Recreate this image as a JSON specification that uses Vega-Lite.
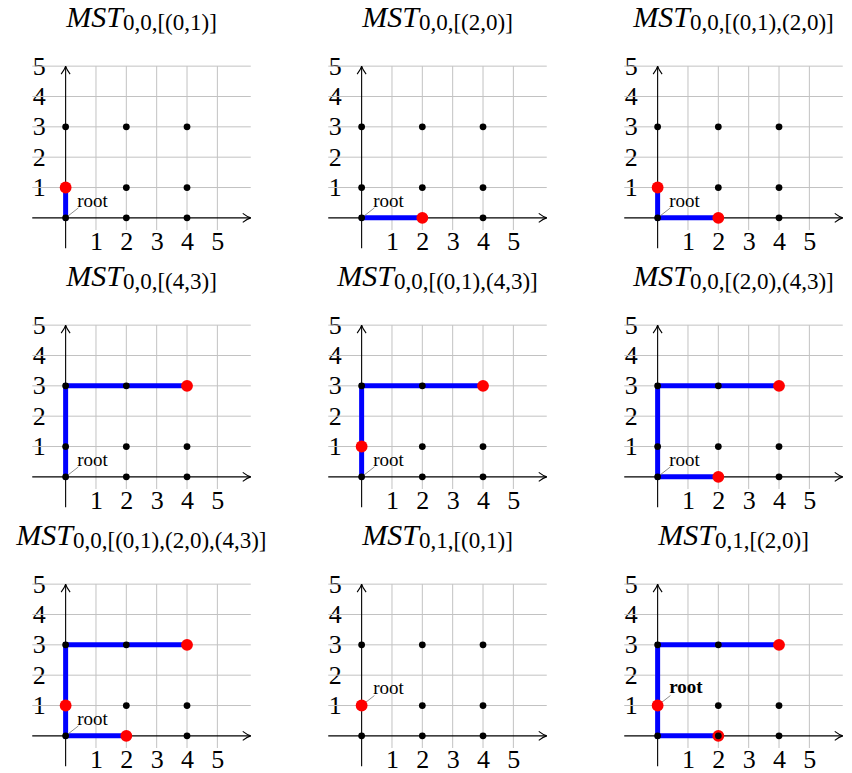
{
"$schema": "https://vega.github.io/schema/vega-lite/v6.json",
"background": "white",
"padding": {"left": 11, "top": 0, "right": 5, "bottom": 5},
"config": {
  "view": {"stroke": null},
  "axis": {"grid": false, "domain": false, "ticks": false, "labelFont": "Liberation Serif", "labelFontSize": 26, "labelColor": "#000000", "labelFlush": false, "labelOverlap": false},
  "axisX": {"labelPadding": 11, "labelBaseline": "middle"},
  "axisY": {"labelPadding": -27.7, "labelAlign": "center", "labelBaseline": "middle"}
},
"datasets": {
  "grid": [{"v": 1}, {"v": 2}, {"v": 3}, {"v": 4}, {"v": 5}],
  "titles": [
    {"panel": 1, "name": "MST", "sub": "0,0,[(0,1)]"},
    {"panel": 2, "name": "MST", "sub": "0,0,[(2,0)]"},
    {"panel": 3, "name": "MST", "sub": "0,0,[(0,1),(2,0)]"},
    {"panel": 4, "name": "MST", "sub": "0,0,[(4,3)]"},
    {"panel": 5, "name": "MST", "sub": "0,0,[(0,1),(4,3)]"},
    {"panel": 6, "name": "MST", "sub": "0,0,[(2,0),(4,3)]"},
    {"panel": 7, "name": "MST", "sub": "0,0,[(0,1),(2,0),(4,3)]"},
    {"panel": 8, "name": "MST", "sub": "0,1,[(0,1)]"},
    {"panel": 9, "name": "MST", "sub": "0,1,[(2,0)]"}
  ],
  "roots": [
    {"panel": 1, "x": 0, "y": 0}, {"panel": 2, "x": 0, "y": 0}, {"panel": 3, "x": 0, "y": 0},
    {"panel": 4, "x": 0, "y": 0}, {"panel": 5, "x": 0, "y": 0}, {"panel": 6, "x": 0, "y": 0},
    {"panel": 7, "x": 0, "y": 0}, {"panel": 8, "x": 0, "y": 1}, {"panel": 9, "x": 0, "y": 1}
  ],
  "edges": [
    {"panel": 1, "x": 0, "y": 0, "x2": 0, "y2": 1},
    {"panel": 2, "x": 0, "y": 0, "x2": 2, "y2": 0},
    {"panel": 3, "x": 0, "y": 0, "x2": 0, "y2": 1},
    {"panel": 3, "x": 0, "y": 0, "x2": 2, "y2": 0},
    {"panel": 4, "x": 0, "y": 0, "x2": 0, "y2": 3},
    {"panel": 4, "x": 0, "y": 3, "x2": 4, "y2": 3},
    {"panel": 5, "x": 0, "y": 0, "x2": 0, "y2": 3},
    {"panel": 5, "x": 0, "y": 3, "x2": 4, "y2": 3},
    {"panel": 6, "x": 0, "y": 0, "x2": 2, "y2": 0},
    {"panel": 6, "x": 0, "y": 0, "x2": 0, "y2": 3},
    {"panel": 6, "x": 0, "y": 3, "x2": 4, "y2": 3},
    {"panel": 7, "x": 0, "y": 0, "x2": 2, "y2": 0},
    {"panel": 7, "x": 0, "y": 0, "x2": 0, "y2": 3},
    {"panel": 7, "x": 0, "y": 3, "x2": 4, "y2": 3},
    {"panel": 9, "x": 0, "y": 0, "x2": 0, "y2": 3},
    {"panel": 9, "x": 0, "y": 3, "x2": 4, "y2": 3},
    {"panel": 9, "x": 0, "y": 0, "x2": 2, "y2": 0}
  ],
  "nodes": [
    {"panel": 1, "x": 0, "y": 0, "kind": "node"}, {"panel": 1, "x": 0, "y": 1, "kind": "node"}, {"panel": 1, "x": 0, "y": 3, "kind": "node"},
    {"panel": 1, "x": 2, "y": 0, "kind": "node"}, {"panel": 1, "x": 2, "y": 1, "kind": "node"}, {"panel": 1, "x": 2, "y": 3, "kind": "node"},
    {"panel": 1, "x": 4, "y": 0, "kind": "node"}, {"panel": 1, "x": 4, "y": 1, "kind": "node"}, {"panel": 1, "x": 4, "y": 3, "kind": "node"},
    {"panel": 1, "x": 0, "y": 1, "kind": "terminal"},
    {"panel": 2, "x": 0, "y": 0, "kind": "node"}, {"panel": 2, "x": 0, "y": 1, "kind": "node"}, {"panel": 2, "x": 0, "y": 3, "kind": "node"},
    {"panel": 2, "x": 2, "y": 0, "kind": "node"}, {"panel": 2, "x": 2, "y": 1, "kind": "node"}, {"panel": 2, "x": 2, "y": 3, "kind": "node"},
    {"panel": 2, "x": 4, "y": 0, "kind": "node"}, {"panel": 2, "x": 4, "y": 1, "kind": "node"}, {"panel": 2, "x": 4, "y": 3, "kind": "node"},
    {"panel": 2, "x": 2, "y": 0, "kind": "terminal"},
    {"panel": 3, "x": 0, "y": 0, "kind": "node"}, {"panel": 3, "x": 0, "y": 1, "kind": "node"}, {"panel": 3, "x": 0, "y": 3, "kind": "node"},
    {"panel": 3, "x": 2, "y": 0, "kind": "node"}, {"panel": 3, "x": 2, "y": 1, "kind": "node"}, {"panel": 3, "x": 2, "y": 3, "kind": "node"},
    {"panel": 3, "x": 4, "y": 0, "kind": "node"}, {"panel": 3, "x": 4, "y": 1, "kind": "node"}, {"panel": 3, "x": 4, "y": 3, "kind": "node"},
    {"panel": 3, "x": 0, "y": 1, "kind": "terminal"}, {"panel": 3, "x": 2, "y": 0, "kind": "terminal"},
    {"panel": 4, "x": 0, "y": 0, "kind": "node"}, {"panel": 4, "x": 0, "y": 1, "kind": "node"}, {"panel": 4, "x": 0, "y": 3, "kind": "node"},
    {"panel": 4, "x": 2, "y": 0, "kind": "node"}, {"panel": 4, "x": 2, "y": 1, "kind": "node"}, {"panel": 4, "x": 2, "y": 3, "kind": "node"},
    {"panel": 4, "x": 4, "y": 0, "kind": "node"}, {"panel": 4, "x": 4, "y": 1, "kind": "node"}, {"panel": 4, "x": 4, "y": 3, "kind": "node"},
    {"panel": 4, "x": 4, "y": 3, "kind": "terminal"},
    {"panel": 5, "x": 0, "y": 0, "kind": "node"}, {"panel": 5, "x": 0, "y": 1, "kind": "node"}, {"panel": 5, "x": 0, "y": 3, "kind": "node"},
    {"panel": 5, "x": 2, "y": 0, "kind": "node"}, {"panel": 5, "x": 2, "y": 1, "kind": "node"}, {"panel": 5, "x": 2, "y": 3, "kind": "node"},
    {"panel": 5, "x": 4, "y": 0, "kind": "node"}, {"panel": 5, "x": 4, "y": 1, "kind": "node"}, {"panel": 5, "x": 4, "y": 3, "kind": "node"},
    {"panel": 5, "x": 0, "y": 1, "kind": "terminal"}, {"panel": 5, "x": 4, "y": 3, "kind": "terminal"},
    {"panel": 6, "x": 0, "y": 0, "kind": "node"}, {"panel": 6, "x": 0, "y": 1, "kind": "node"}, {"panel": 6, "x": 0, "y": 3, "kind": "node"},
    {"panel": 6, "x": 2, "y": 0, "kind": "node"}, {"panel": 6, "x": 2, "y": 1, "kind": "node"}, {"panel": 6, "x": 2, "y": 3, "kind": "node"},
    {"panel": 6, "x": 4, "y": 0, "kind": "node"}, {"panel": 6, "x": 4, "y": 1, "kind": "node"}, {"panel": 6, "x": 4, "y": 3, "kind": "node"},
    {"panel": 6, "x": 2, "y": 0, "kind": "terminal"}, {"panel": 6, "x": 4, "y": 3, "kind": "terminal"},
    {"panel": 7, "x": 0, "y": 0, "kind": "node"}, {"panel": 7, "x": 0, "y": 1, "kind": "node"}, {"panel": 7, "x": 0, "y": 3, "kind": "node"},
    {"panel": 7, "x": 2, "y": 0, "kind": "node"}, {"panel": 7, "x": 2, "y": 1, "kind": "node"}, {"panel": 7, "x": 2, "y": 3, "kind": "node"},
    {"panel": 7, "x": 4, "y": 0, "kind": "node"}, {"panel": 7, "x": 4, "y": 1, "kind": "node"}, {"panel": 7, "x": 4, "y": 3, "kind": "node"},
    {"panel": 7, "x": 0, "y": 1, "kind": "terminal"}, {"panel": 7, "x": 2, "y": 0, "kind": "terminal"}, {"panel": 7, "x": 4, "y": 3, "kind": "terminal"},
    {"panel": 8, "x": 0, "y": 0, "kind": "node"}, {"panel": 8, "x": 0, "y": 1, "kind": "node"}, {"panel": 8, "x": 0, "y": 3, "kind": "node"},
    {"panel": 8, "x": 2, "y": 0, "kind": "node"}, {"panel": 8, "x": 2, "y": 1, "kind": "node"}, {"panel": 8, "x": 2, "y": 3, "kind": "node"},
    {"panel": 8, "x": 4, "y": 0, "kind": "node"}, {"panel": 8, "x": 4, "y": 1, "kind": "node"}, {"panel": 8, "x": 4, "y": 3, "kind": "node"},
    {"panel": 8, "x": 0, "y": 1, "kind": "terminal"},
    {"panel": 9, "x": 0, "y": 0, "kind": "node"}, {"panel": 9, "x": 0, "y": 1, "kind": "node"}, {"panel": 9, "x": 0, "y": 3, "kind": "node"},
    {"panel": 9, "x": 2, "y": 0, "kind": "node"}, {"panel": 9, "x": 2, "y": 1, "kind": "node"}, {"panel": 9, "x": 2, "y": 3, "kind": "node"},
    {"panel": 9, "x": 4, "y": 0, "kind": "node"}, {"panel": 9, "x": 4, "y": 1, "kind": "node"}, {"panel": 9, "x": 4, "y": 3, "kind": "node"},
    {"panel": 9, "x": 0, "y": 1, "kind": "terminal"}, {"panel": 9, "x": 4, "y": 3, "kind": "terminal"}, {"panel": 9, "x": 2, "y": 0, "kind": "terminal"},
    {"panel": 9, "x": 2, "y": 0, "kind": "node"}
  ]
},
"columns": 3,
"spacing": {"row": 29, "column": 35},
"bounds": "flush",
"concat": [
{"width": 261, "height": 230, "layer": [
 {"data": {"name": "grid"}, "mark": {"type": "rule", "color": "#c2c2c2", "strokeWidth": 1}, "encoding": {"x": {"field": "v", "type": "quantitative", "title": null, "scale": {"domain": [-1.8, 6.8], "nice": false, "zero": false}, "axis": {"values": [1, 2, 3, 4, 5], "title": null}}, "y": {"datum": -0.4, "type": "quantitative", "scale": {"domain": [-0.4, 7.18], "nice": false, "zero": false}, "axis": {"values": [1, 2, 3, 4, 5], "title": null}}, "y2": {"datum": 5}}},
 {"data": {"name": "grid"}, "mark": {"type": "rule", "color": "#c2c2c2", "strokeWidth": 1}, "encoding": {"y": {"field": "v", "type": "quantitative", "title": null}, "x": {"datum": -1.1, "type": "quantitative"}, "x2": {"datum": 6.1}}},
 {"data": {"values": [{}]}, "mark": {"type": "rule", "color": "#000000", "strokeWidth": 1.1}, "encoding": {"x": {"datum": -1.1, "type": "quantitative"}, "x2": {"datum": 6.1}, "y": {"datum": 0, "type": "quantitative"}}},
 {"data": {"values": [{}]}, "mark": {"type": "rule", "color": "#000000", "strokeWidth": 1.1}, "encoding": {"x": {"datum": 0, "type": "quantitative"}, "y": {"datum": -1, "type": "quantitative"}, "y2": {"datum": 5}}},
 {"data": {"values": [{}]}, "mark": {"type": "point", "shape": "M -1 -0.56 Q -0.4 -0.1 0 0 Q -0.4 0.1 -1 0.56", "filled": false, "color": "#000000", "strokeWidth": 1.1, "size": 256, "opacity": 1}, "encoding": {"x": {"datum": 6.1, "type": "quantitative"}, "y": {"datum": 0, "type": "quantitative"}}},
 {"data": {"values": [{}]}, "mark": {"type": "point", "shape": "M -0.56 1 Q -0.1 0.4 0 0 Q 0.1 0.4 0.56 1", "filled": false, "color": "#000000", "strokeWidth": 1.1, "size": 256, "opacity": 1}, "encoding": {"x": {"datum": 0, "type": "quantitative"}, "y": {"datum": 5, "type": "quantitative"}}},
 {"data": {"name": "edges"}, "transform": [{"filter": "datum.panel == 1"}], "mark": {"type": "rule", "color": "#0000ff", "strokeWidth": 5, "strokeCap": "square"}, "encoding": {"x": {"field": "x", "type": "quantitative", "title": null}, "y": {"field": "y", "type": "quantitative", "title": null}, "x2": {"field": "x2"}, "y2": {"field": "y2"}}},
 {"data": {"name": "roots"}, "transform": [{"filter": "datum.panel == 1"}], "mark": {"type": "point", "shape": "M 0 0 L 1 -0.78", "filled": false, "color": "#808080", "strokeWidth": 0.9, "size": 655, "opacity": 1}, "encoding": {"x": {"field": "x", "type": "quantitative", "title": null}, "y": {"field": "y", "type": "quantitative", "title": null}}},
 {"data": {"name": "nodes"}, "transform": [{"filter": "datum.panel == 1"}], "mark": {"type": "point", "shape": "circle", "filled": true, "opacity": 1, "strokeWidth": 0}, "encoding": {"x": {"field": "x", "type": "quantitative", "title": null}, "y": {"field": "y", "type": "quantitative", "title": null}, "color": {"field": "kind", "type": "nominal", "scale": {"domain": ["node", "terminal"], "range": ["#000000", "#ff0000"]}, "legend": null}, "size": {"field": "kind", "type": "ordinal", "scale": {"domain": ["node", "terminal"], "range": [46, 140]}, "legend": null}}},
 {"data": {"name": "roots"}, "transform": [{"filter": "datum.panel == 1"}], "mark": {"type": "text", "text": "root", "align": "left", "baseline": "alphabetic", "dx": 11.5, "dy": -11.3, "font": "Liberation Serif", "fontSize": 19, "color": "#000000"}, "encoding": {"x": {"field": "x", "type": "quantitative", "title": null}, "y": {"field": "y", "type": "quantitative", "title": null}}},
 {"data": {"name": "titles"}, "transform": [{"filter": "datum.panel == 1"}], "mark": {"type": "text", "align": "right", "baseline": "alphabetic", "dx": -18.6, "font": "Liberation Serif", "fontStyle": "italic", "fontSize": 30, "color": "#000000"}, "encoding": {"x": {"datum": 2.5, "type": "quantitative"}, "y": {"datum": 6.276, "type": "quantitative"}, "text": {"field": "name"}}},
 {"data": {"name": "titles"}, "transform": [{"filter": "datum.panel == 1"}], "mark": {"type": "text", "align": "left", "baseline": "alphabetic", "dx": -18.6, "dy": 3, "font": "Liberation Serif", "fontSize": 23, "color": "#000000"}, "encoding": {"x": {"datum": 2.5, "type": "quantitative"}, "y": {"datum": 6.276, "type": "quantitative"}, "text": {"field": "sub"}}}
]},
{"width": 261, "height": 230, "layer": [
 {"data": {"name": "grid"}, "mark": {"type": "rule", "color": "#c2c2c2", "strokeWidth": 1}, "encoding": {"x": {"field": "v", "type": "quantitative", "title": null, "scale": {"domain": [-1.8, 6.8], "nice": false, "zero": false}, "axis": {"values": [1, 2, 3, 4, 5], "title": null}}, "y": {"datum": -0.4, "type": "quantitative", "scale": {"domain": [-0.4, 7.18], "nice": false, "zero": false}, "axis": {"values": [1, 2, 3, 4, 5], "title": null}}, "y2": {"datum": 5}}},
 {"data": {"name": "grid"}, "mark": {"type": "rule", "color": "#c2c2c2", "strokeWidth": 1}, "encoding": {"y": {"field": "v", "type": "quantitative", "title": null}, "x": {"datum": -1.1, "type": "quantitative"}, "x2": {"datum": 6.1}}},
 {"data": {"values": [{}]}, "mark": {"type": "rule", "color": "#000000", "strokeWidth": 1.1}, "encoding": {"x": {"datum": -1.1, "type": "quantitative"}, "x2": {"datum": 6.1}, "y": {"datum": 0, "type": "quantitative"}}},
 {"data": {"values": [{}]}, "mark": {"type": "rule", "color": "#000000", "strokeWidth": 1.1}, "encoding": {"x": {"datum": 0, "type": "quantitative"}, "y": {"datum": -1, "type": "quantitative"}, "y2": {"datum": 5}}},
 {"data": {"values": [{}]}, "mark": {"type": "point", "shape": "M -1 -0.56 Q -0.4 -0.1 0 0 Q -0.4 0.1 -1 0.56", "filled": false, "color": "#000000", "strokeWidth": 1.1, "size": 256, "opacity": 1}, "encoding": {"x": {"datum": 6.1, "type": "quantitative"}, "y": {"datum": 0, "type": "quantitative"}}},
 {"data": {"values": [{}]}, "mark": {"type": "point", "shape": "M -0.56 1 Q -0.1 0.4 0 0 Q 0.1 0.4 0.56 1", "filled": false, "color": "#000000", "strokeWidth": 1.1, "size": 256, "opacity": 1}, "encoding": {"x": {"datum": 0, "type": "quantitative"}, "y": {"datum": 5, "type": "quantitative"}}},
 {"data": {"name": "edges"}, "transform": [{"filter": "datum.panel == 2"}], "mark": {"type": "rule", "color": "#0000ff", "strokeWidth": 5, "strokeCap": "square"}, "encoding": {"x": {"field": "x", "type": "quantitative", "title": null}, "y": {"field": "y", "type": "quantitative", "title": null}, "x2": {"field": "x2"}, "y2": {"field": "y2"}}},
 {"data": {"name": "roots"}, "transform": [{"filter": "datum.panel == 2"}], "mark": {"type": "point", "shape": "M 0 0 L 1 -0.78", "filled": false, "color": "#808080", "strokeWidth": 0.9, "size": 655, "opacity": 1}, "encoding": {"x": {"field": "x", "type": "quantitative", "title": null}, "y": {"field": "y", "type": "quantitative", "title": null}}},
 {"data": {"name": "nodes"}, "transform": [{"filter": "datum.panel == 2"}], "mark": {"type": "point", "shape": "circle", "filled": true, "opacity": 1, "strokeWidth": 0}, "encoding": {"x": {"field": "x", "type": "quantitative", "title": null}, "y": {"field": "y", "type": "quantitative", "title": null}, "color": {"field": "kind", "type": "nominal", "scale": {"domain": ["node", "terminal"], "range": ["#000000", "#ff0000"]}, "legend": null}, "size": {"field": "kind", "type": "ordinal", "scale": {"domain": ["node", "terminal"], "range": [46, 140]}, "legend": null}}},
 {"data": {"name": "roots"}, "transform": [{"filter": "datum.panel == 2"}], "mark": {"type": "text", "text": "root", "align": "left", "baseline": "alphabetic", "dx": 11.5, "dy": -11.3, "font": "Liberation Serif", "fontSize": 19, "color": "#000000"}, "encoding": {"x": {"field": "x", "type": "quantitative", "title": null}, "y": {"field": "y", "type": "quantitative", "title": null}}},
 {"data": {"name": "titles"}, "transform": [{"filter": "datum.panel == 2"}], "mark": {"type": "text", "align": "right", "baseline": "alphabetic", "dx": -18.6, "font": "Liberation Serif", "fontStyle": "italic", "fontSize": 30, "color": "#000000"}, "encoding": {"x": {"datum": 2.5, "type": "quantitative"}, "y": {"datum": 6.276, "type": "quantitative"}, "text": {"field": "name"}}},
 {"data": {"name": "titles"}, "transform": [{"filter": "datum.panel == 2"}], "mark": {"type": "text", "align": "left", "baseline": "alphabetic", "dx": -18.6, "dy": 3, "font": "Liberation Serif", "fontSize": 23, "color": "#000000"}, "encoding": {"x": {"datum": 2.5, "type": "quantitative"}, "y": {"datum": 6.276, "type": "quantitative"}, "text": {"field": "sub"}}}
]},
{"width": 261, "height": 230, "layer": [
 {"data": {"name": "grid"}, "mark": {"type": "rule", "color": "#c2c2c2", "strokeWidth": 1}, "encoding": {"x": {"field": "v", "type": "quantitative", "title": null, "scale": {"domain": [-1.8, 6.8], "nice": false, "zero": false}, "axis": {"values": [1, 2, 3, 4, 5], "title": null}}, "y": {"datum": -0.4, "type": "quantitative", "scale": {"domain": [-0.4, 7.18], "nice": false, "zero": false}, "axis": {"values": [1, 2, 3, 4, 5], "title": null}}, "y2": {"datum": 5}}},
 {"data": {"name": "grid"}, "mark": {"type": "rule", "color": "#c2c2c2", "strokeWidth": 1}, "encoding": {"y": {"field": "v", "type": "quantitative", "title": null}, "x": {"datum": -1.1, "type": "quantitative"}, "x2": {"datum": 6.1}}},
 {"data": {"values": [{}]}, "mark": {"type": "rule", "color": "#000000", "strokeWidth": 1.1}, "encoding": {"x": {"datum": -1.1, "type": "quantitative"}, "x2": {"datum": 6.1}, "y": {"datum": 0, "type": "quantitative"}}},
 {"data": {"values": [{}]}, "mark": {"type": "rule", "color": "#000000", "strokeWidth": 1.1}, "encoding": {"x": {"datum": 0, "type": "quantitative"}, "y": {"datum": -1, "type": "quantitative"}, "y2": {"datum": 5}}},
 {"data": {"values": [{}]}, "mark": {"type": "point", "shape": "M -1 -0.56 Q -0.4 -0.1 0 0 Q -0.4 0.1 -1 0.56", "filled": false, "color": "#000000", "strokeWidth": 1.1, "size": 256, "opacity": 1}, "encoding": {"x": {"datum": 6.1, "type": "quantitative"}, "y": {"datum": 0, "type": "quantitative"}}},
 {"data": {"values": [{}]}, "mark": {"type": "point", "shape": "M -0.56 1 Q -0.1 0.4 0 0 Q 0.1 0.4 0.56 1", "filled": false, "color": "#000000", "strokeWidth": 1.1, "size": 256, "opacity": 1}, "encoding": {"x": {"datum": 0, "type": "quantitative"}, "y": {"datum": 5, "type": "quantitative"}}},
 {"data": {"name": "edges"}, "transform": [{"filter": "datum.panel == 3"}], "mark": {"type": "rule", "color": "#0000ff", "strokeWidth": 5, "strokeCap": "square"}, "encoding": {"x": {"field": "x", "type": "quantitative", "title": null}, "y": {"field": "y", "type": "quantitative", "title": null}, "x2": {"field": "x2"}, "y2": {"field": "y2"}}},
 {"data": {"name": "roots"}, "transform": [{"filter": "datum.panel == 3"}], "mark": {"type": "point", "shape": "M 0 0 L 1 -0.78", "filled": false, "color": "#808080", "strokeWidth": 0.9, "size": 655, "opacity": 1}, "encoding": {"x": {"field": "x", "type": "quantitative", "title": null}, "y": {"field": "y", "type": "quantitative", "title": null}}},
 {"data": {"name": "nodes"}, "transform": [{"filter": "datum.panel == 3"}], "mark": {"type": "point", "shape": "circle", "filled": true, "opacity": 1, "strokeWidth": 0}, "encoding": {"x": {"field": "x", "type": "quantitative", "title": null}, "y": {"field": "y", "type": "quantitative", "title": null}, "color": {"field": "kind", "type": "nominal", "scale": {"domain": ["node", "terminal"], "range": ["#000000", "#ff0000"]}, "legend": null}, "size": {"field": "kind", "type": "ordinal", "scale": {"domain": ["node", "terminal"], "range": [46, 140]}, "legend": null}}},
 {"data": {"name": "roots"}, "transform": [{"filter": "datum.panel == 3"}], "mark": {"type": "text", "text": "root", "align": "left", "baseline": "alphabetic", "dx": 11.5, "dy": -11.3, "font": "Liberation Serif", "fontSize": 19, "color": "#000000"}, "encoding": {"x": {"field": "x", "type": "quantitative", "title": null}, "y": {"field": "y", "type": "quantitative", "title": null}}},
 {"data": {"name": "titles"}, "transform": [{"filter": "datum.panel == 3"}], "mark": {"type": "text", "align": "right", "baseline": "alphabetic", "dx": -43.5, "font": "Liberation Serif", "fontStyle": "italic", "fontSize": 30, "color": "#000000"}, "encoding": {"x": {"datum": 2.5, "type": "quantitative"}, "y": {"datum": 6.276, "type": "quantitative"}, "text": {"field": "name"}}},
 {"data": {"name": "titles"}, "transform": [{"filter": "datum.panel == 3"}], "mark": {"type": "text", "align": "left", "baseline": "alphabetic", "dx": -43.5, "dy": 3, "font": "Liberation Serif", "fontSize": 23, "color": "#000000"}, "encoding": {"x": {"datum": 2.5, "type": "quantitative"}, "y": {"datum": 6.276, "type": "quantitative"}, "text": {"field": "sub"}}}
]},
{"width": 261, "height": 230, "layer": [
 {"data": {"name": "grid"}, "mark": {"type": "rule", "color": "#c2c2c2", "strokeWidth": 1}, "encoding": {"x": {"field": "v", "type": "quantitative", "title": null, "scale": {"domain": [-1.8, 6.8], "nice": false, "zero": false}, "axis": {"values": [1, 2, 3, 4, 5], "title": null}}, "y": {"datum": -0.4, "type": "quantitative", "scale": {"domain": [-0.4, 7.18], "nice": false, "zero": false}, "axis": {"values": [1, 2, 3, 4, 5], "title": null}}, "y2": {"datum": 5}}},
 {"data": {"name": "grid"}, "mark": {"type": "rule", "color": "#c2c2c2", "strokeWidth": 1}, "encoding": {"y": {"field": "v", "type": "quantitative", "title": null}, "x": {"datum": -1.1, "type": "quantitative"}, "x2": {"datum": 6.1}}},
 {"data": {"values": [{}]}, "mark": {"type": "rule", "color": "#000000", "strokeWidth": 1.1}, "encoding": {"x": {"datum": -1.1, "type": "quantitative"}, "x2": {"datum": 6.1}, "y": {"datum": 0, "type": "quantitative"}}},
 {"data": {"values": [{}]}, "mark": {"type": "rule", "color": "#000000", "strokeWidth": 1.1}, "encoding": {"x": {"datum": 0, "type": "quantitative"}, "y": {"datum": -1, "type": "quantitative"}, "y2": {"datum": 5}}},
 {"data": {"values": [{}]}, "mark": {"type": "point", "shape": "M -1 -0.56 Q -0.4 -0.1 0 0 Q -0.4 0.1 -1 0.56", "filled": false, "color": "#000000", "strokeWidth": 1.1, "size": 256, "opacity": 1}, "encoding": {"x": {"datum": 6.1, "type": "quantitative"}, "y": {"datum": 0, "type": "quantitative"}}},
 {"data": {"values": [{}]}, "mark": {"type": "point", "shape": "M -0.56 1 Q -0.1 0.4 0 0 Q 0.1 0.4 0.56 1", "filled": false, "color": "#000000", "strokeWidth": 1.1, "size": 256, "opacity": 1}, "encoding": {"x": {"datum": 0, "type": "quantitative"}, "y": {"datum": 5, "type": "quantitative"}}},
 {"data": {"name": "edges"}, "transform": [{"filter": "datum.panel == 4"}], "mark": {"type": "rule", "color": "#0000ff", "strokeWidth": 5, "strokeCap": "square"}, "encoding": {"x": {"field": "x", "type": "quantitative", "title": null}, "y": {"field": "y", "type": "quantitative", "title": null}, "x2": {"field": "x2"}, "y2": {"field": "y2"}}},
 {"data": {"name": "roots"}, "transform": [{"filter": "datum.panel == 4"}], "mark": {"type": "point", "shape": "M 0 0 L 1 -0.78", "filled": false, "color": "#808080", "strokeWidth": 0.9, "size": 655, "opacity": 1}, "encoding": {"x": {"field": "x", "type": "quantitative", "title": null}, "y": {"field": "y", "type": "quantitative", "title": null}}},
 {"data": {"name": "nodes"}, "transform": [{"filter": "datum.panel == 4"}], "mark": {"type": "point", "shape": "circle", "filled": true, "opacity": 1, "strokeWidth": 0}, "encoding": {"x": {"field": "x", "type": "quantitative", "title": null}, "y": {"field": "y", "type": "quantitative", "title": null}, "color": {"field": "kind", "type": "nominal", "scale": {"domain": ["node", "terminal"], "range": ["#000000", "#ff0000"]}, "legend": null}, "size": {"field": "kind", "type": "ordinal", "scale": {"domain": ["node", "terminal"], "range": [46, 140]}, "legend": null}}},
 {"data": {"name": "roots"}, "transform": [{"filter": "datum.panel == 4"}], "mark": {"type": "text", "text": "root", "align": "left", "baseline": "alphabetic", "dx": 11.5, "dy": -11.3, "font": "Liberation Serif", "fontSize": 19, "color": "#000000"}, "encoding": {"x": {"field": "x", "type": "quantitative", "title": null}, "y": {"field": "y", "type": "quantitative", "title": null}}},
 {"data": {"name": "titles"}, "transform": [{"filter": "datum.panel == 4"}], "mark": {"type": "text", "align": "right", "baseline": "alphabetic", "dx": -18.6, "font": "Liberation Serif", "fontStyle": "italic", "fontSize": 30, "color": "#000000"}, "encoding": {"x": {"datum": 2.5, "type": "quantitative"}, "y": {"datum": 6.276, "type": "quantitative"}, "text": {"field": "name"}}},
 {"data": {"name": "titles"}, "transform": [{"filter": "datum.panel == 4"}], "mark": {"type": "text", "align": "left", "baseline": "alphabetic", "dx": -18.6, "dy": 3, "font": "Liberation Serif", "fontSize": 23, "color": "#000000"}, "encoding": {"x": {"datum": 2.5, "type": "quantitative"}, "y": {"datum": 6.276, "type": "quantitative"}, "text": {"field": "sub"}}}
]},
{"width": 261, "height": 230, "layer": [
 {"data": {"name": "grid"}, "mark": {"type": "rule", "color": "#c2c2c2", "strokeWidth": 1}, "encoding": {"x": {"field": "v", "type": "quantitative", "title": null, "scale": {"domain": [-1.8, 6.8], "nice": false, "zero": false}, "axis": {"values": [1, 2, 3, 4, 5], "title": null}}, "y": {"datum": -0.4, "type": "quantitative", "scale": {"domain": [-0.4, 7.18], "nice": false, "zero": false}, "axis": {"values": [1, 2, 3, 4, 5], "title": null}}, "y2": {"datum": 5}}},
 {"data": {"name": "grid"}, "mark": {"type": "rule", "color": "#c2c2c2", "strokeWidth": 1}, "encoding": {"y": {"field": "v", "type": "quantitative", "title": null}, "x": {"datum": -1.1, "type": "quantitative"}, "x2": {"datum": 6.1}}},
 {"data": {"values": [{}]}, "mark": {"type": "rule", "color": "#000000", "strokeWidth": 1.1}, "encoding": {"x": {"datum": -1.1, "type": "quantitative"}, "x2": {"datum": 6.1}, "y": {"datum": 0, "type": "quantitative"}}},
 {"data": {"values": [{}]}, "mark": {"type": "rule", "color": "#000000", "strokeWidth": 1.1}, "encoding": {"x": {"datum": 0, "type": "quantitative"}, "y": {"datum": -1, "type": "quantitative"}, "y2": {"datum": 5}}},
 {"data": {"values": [{}]}, "mark": {"type": "point", "shape": "M -1 -0.56 Q -0.4 -0.1 0 0 Q -0.4 0.1 -1 0.56", "filled": false, "color": "#000000", "strokeWidth": 1.1, "size": 256, "opacity": 1}, "encoding": {"x": {"datum": 6.1, "type": "quantitative"}, "y": {"datum": 0, "type": "quantitative"}}},
 {"data": {"values": [{}]}, "mark": {"type": "point", "shape": "M -0.56 1 Q -0.1 0.4 0 0 Q 0.1 0.4 0.56 1", "filled": false, "color": "#000000", "strokeWidth": 1.1, "size": 256, "opacity": 1}, "encoding": {"x": {"datum": 0, "type": "quantitative"}, "y": {"datum": 5, "type": "quantitative"}}},
 {"data": {"name": "edges"}, "transform": [{"filter": "datum.panel == 5"}], "mark": {"type": "rule", "color": "#0000ff", "strokeWidth": 5, "strokeCap": "square"}, "encoding": {"x": {"field": "x", "type": "quantitative", "title": null}, "y": {"field": "y", "type": "quantitative", "title": null}, "x2": {"field": "x2"}, "y2": {"field": "y2"}}},
 {"data": {"name": "roots"}, "transform": [{"filter": "datum.panel == 5"}], "mark": {"type": "point", "shape": "M 0 0 L 1 -0.78", "filled": false, "color": "#808080", "strokeWidth": 0.9, "size": 655, "opacity": 1}, "encoding": {"x": {"field": "x", "type": "quantitative", "title": null}, "y": {"field": "y", "type": "quantitative", "title": null}}},
 {"data": {"name": "nodes"}, "transform": [{"filter": "datum.panel == 5"}], "mark": {"type": "point", "shape": "circle", "filled": true, "opacity": 1, "strokeWidth": 0}, "encoding": {"x": {"field": "x", "type": "quantitative", "title": null}, "y": {"field": "y", "type": "quantitative", "title": null}, "color": {"field": "kind", "type": "nominal", "scale": {"domain": ["node", "terminal"], "range": ["#000000", "#ff0000"]}, "legend": null}, "size": {"field": "kind", "type": "ordinal", "scale": {"domain": ["node", "terminal"], "range": [46, 140]}, "legend": null}}},
 {"data": {"name": "roots"}, "transform": [{"filter": "datum.panel == 5"}], "mark": {"type": "text", "text": "root", "align": "left", "baseline": "alphabetic", "dx": 11.5, "dy": -11.3, "font": "Liberation Serif", "fontSize": 19, "color": "#000000"}, "encoding": {"x": {"field": "x", "type": "quantitative", "title": null}, "y": {"field": "y", "type": "quantitative", "title": null}}},
 {"data": {"name": "titles"}, "transform": [{"filter": "datum.panel == 5"}], "mark": {"type": "text", "align": "right", "baseline": "alphabetic", "dx": -43.5, "font": "Liberation Serif", "fontStyle": "italic", "fontSize": 30, "color": "#000000"}, "encoding": {"x": {"datum": 2.5, "type": "quantitative"}, "y": {"datum": 6.276, "type": "quantitative"}, "text": {"field": "name"}}},
 {"data": {"name": "titles"}, "transform": [{"filter": "datum.panel == 5"}], "mark": {"type": "text", "align": "left", "baseline": "alphabetic", "dx": -43.5, "dy": 3, "font": "Liberation Serif", "fontSize": 23, "color": "#000000"}, "encoding": {"x": {"datum": 2.5, "type": "quantitative"}, "y": {"datum": 6.276, "type": "quantitative"}, "text": {"field": "sub"}}}
]},
{"width": 261, "height": 230, "layer": [
 {"data": {"name": "grid"}, "mark": {"type": "rule", "color": "#c2c2c2", "strokeWidth": 1}, "encoding": {"x": {"field": "v", "type": "quantitative", "title": null, "scale": {"domain": [-1.8, 6.8], "nice": false, "zero": false}, "axis": {"values": [1, 2, 3, 4, 5], "title": null}}, "y": {"datum": -0.4, "type": "quantitative", "scale": {"domain": [-0.4, 7.18], "nice": false, "zero": false}, "axis": {"values": [1, 2, 3, 4, 5], "title": null}}, "y2": {"datum": 5}}},
 {"data": {"name": "grid"}, "mark": {"type": "rule", "color": "#c2c2c2", "strokeWidth": 1}, "encoding": {"y": {"field": "v", "type": "quantitative", "title": null}, "x": {"datum": -1.1, "type": "quantitative"}, "x2": {"datum": 6.1}}},
 {"data": {"values": [{}]}, "mark": {"type": "rule", "color": "#000000", "strokeWidth": 1.1}, "encoding": {"x": {"datum": -1.1, "type": "quantitative"}, "x2": {"datum": 6.1}, "y": {"datum": 0, "type": "quantitative"}}},
 {"data": {"values": [{}]}, "mark": {"type": "rule", "color": "#000000", "strokeWidth": 1.1}, "encoding": {"x": {"datum": 0, "type": "quantitative"}, "y": {"datum": -1, "type": "quantitative"}, "y2": {"datum": 5}}},
 {"data": {"values": [{}]}, "mark": {"type": "point", "shape": "M -1 -0.56 Q -0.4 -0.1 0 0 Q -0.4 0.1 -1 0.56", "filled": false, "color": "#000000", "strokeWidth": 1.1, "size": 256, "opacity": 1}, "encoding": {"x": {"datum": 6.1, "type": "quantitative"}, "y": {"datum": 0, "type": "quantitative"}}},
 {"data": {"values": [{}]}, "mark": {"type": "point", "shape": "M -0.56 1 Q -0.1 0.4 0 0 Q 0.1 0.4 0.56 1", "filled": false, "color": "#000000", "strokeWidth": 1.1, "size": 256, "opacity": 1}, "encoding": {"x": {"datum": 0, "type": "quantitative"}, "y": {"datum": 5, "type": "quantitative"}}},
 {"data": {"name": "edges"}, "transform": [{"filter": "datum.panel == 6"}], "mark": {"type": "rule", "color": "#0000ff", "strokeWidth": 5, "strokeCap": "square"}, "encoding": {"x": {"field": "x", "type": "quantitative", "title": null}, "y": {"field": "y", "type": "quantitative", "title": null}, "x2": {"field": "x2"}, "y2": {"field": "y2"}}},
 {"data": {"name": "roots"}, "transform": [{"filter": "datum.panel == 6"}], "mark": {"type": "point", "shape": "M 0 0 L 1 -0.78", "filled": false, "color": "#808080", "strokeWidth": 0.9, "size": 655, "opacity": 1}, "encoding": {"x": {"field": "x", "type": "quantitative", "title": null}, "y": {"field": "y", "type": "quantitative", "title": null}}},
 {"data": {"name": "nodes"}, "transform": [{"filter": "datum.panel == 6"}], "mark": {"type": "point", "shape": "circle", "filled": true, "opacity": 1, "strokeWidth": 0}, "encoding": {"x": {"field": "x", "type": "quantitative", "title": null}, "y": {"field": "y", "type": "quantitative", "title": null}, "color": {"field": "kind", "type": "nominal", "scale": {"domain": ["node", "terminal"], "range": ["#000000", "#ff0000"]}, "legend": null}, "size": {"field": "kind", "type": "ordinal", "scale": {"domain": ["node", "terminal"], "range": [46, 140]}, "legend": null}}},
 {"data": {"name": "roots"}, "transform": [{"filter": "datum.panel == 6"}], "mark": {"type": "text", "text": "root", "align": "left", "baseline": "alphabetic", "dx": 11.5, "dy": -11.3, "font": "Liberation Serif", "fontSize": 19, "color": "#000000"}, "encoding": {"x": {"field": "x", "type": "quantitative", "title": null}, "y": {"field": "y", "type": "quantitative", "title": null}}},
 {"data": {"name": "titles"}, "transform": [{"filter": "datum.panel == 6"}], "mark": {"type": "text", "align": "right", "baseline": "alphabetic", "dx": -43.5, "font": "Liberation Serif", "fontStyle": "italic", "fontSize": 30, "color": "#000000"}, "encoding": {"x": {"datum": 2.5, "type": "quantitative"}, "y": {"datum": 6.276, "type": "quantitative"}, "text": {"field": "name"}}},
 {"data": {"name": "titles"}, "transform": [{"filter": "datum.panel == 6"}], "mark": {"type": "text", "align": "left", "baseline": "alphabetic", "dx": -43.5, "dy": 3, "font": "Liberation Serif", "fontSize": 23, "color": "#000000"}, "encoding": {"x": {"datum": 2.5, "type": "quantitative"}, "y": {"datum": 6.276, "type": "quantitative"}, "text": {"field": "sub"}}}
]},
{"width": 261, "height": 230, "layer": [
 {"data": {"name": "grid"}, "mark": {"type": "rule", "color": "#c2c2c2", "strokeWidth": 1}, "encoding": {"x": {"field": "v", "type": "quantitative", "title": null, "scale": {"domain": [-1.8, 6.8], "nice": false, "zero": false}, "axis": {"values": [1, 2, 3, 4, 5], "title": null}}, "y": {"datum": -0.4, "type": "quantitative", "scale": {"domain": [-0.4, 7.18], "nice": false, "zero": false}, "axis": {"values": [1, 2, 3, 4, 5], "title": null}}, "y2": {"datum": 5}}},
 {"data": {"name": "grid"}, "mark": {"type": "rule", "color": "#c2c2c2", "strokeWidth": 1}, "encoding": {"y": {"field": "v", "type": "quantitative", "title": null}, "x": {"datum": -1.1, "type": "quantitative"}, "x2": {"datum": 6.1}}},
 {"data": {"values": [{}]}, "mark": {"type": "rule", "color": "#000000", "strokeWidth": 1.1}, "encoding": {"x": {"datum": -1.1, "type": "quantitative"}, "x2": {"datum": 6.1}, "y": {"datum": 0, "type": "quantitative"}}},
 {"data": {"values": [{}]}, "mark": {"type": "rule", "color": "#000000", "strokeWidth": 1.1}, "encoding": {"x": {"datum": 0, "type": "quantitative"}, "y": {"datum": -1, "type": "quantitative"}, "y2": {"datum": 5}}},
 {"data": {"values": [{}]}, "mark": {"type": "point", "shape": "M -1 -0.56 Q -0.4 -0.1 0 0 Q -0.4 0.1 -1 0.56", "filled": false, "color": "#000000", "strokeWidth": 1.1, "size": 256, "opacity": 1}, "encoding": {"x": {"datum": 6.1, "type": "quantitative"}, "y": {"datum": 0, "type": "quantitative"}}},
 {"data": {"values": [{}]}, "mark": {"type": "point", "shape": "M -0.56 1 Q -0.1 0.4 0 0 Q 0.1 0.4 0.56 1", "filled": false, "color": "#000000", "strokeWidth": 1.1, "size": 256, "opacity": 1}, "encoding": {"x": {"datum": 0, "type": "quantitative"}, "y": {"datum": 5, "type": "quantitative"}}},
 {"data": {"name": "edges"}, "transform": [{"filter": "datum.panel == 7"}], "mark": {"type": "rule", "color": "#0000ff", "strokeWidth": 5, "strokeCap": "square"}, "encoding": {"x": {"field": "x", "type": "quantitative", "title": null}, "y": {"field": "y", "type": "quantitative", "title": null}, "x2": {"field": "x2"}, "y2": {"field": "y2"}}},
 {"data": {"name": "roots"}, "transform": [{"filter": "datum.panel == 7"}], "mark": {"type": "point", "shape": "M 0 0 L 1 -0.78", "filled": false, "color": "#808080", "strokeWidth": 0.9, "size": 655, "opacity": 1}, "encoding": {"x": {"field": "x", "type": "quantitative", "title": null}, "y": {"field": "y", "type": "quantitative", "title": null}}},
 {"data": {"name": "nodes"}, "transform": [{"filter": "datum.panel == 7"}], "mark": {"type": "point", "shape": "circle", "filled": true, "opacity": 1, "strokeWidth": 0}, "encoding": {"x": {"field": "x", "type": "quantitative", "title": null}, "y": {"field": "y", "type": "quantitative", "title": null}, "color": {"field": "kind", "type": "nominal", "scale": {"domain": ["node", "terminal"], "range": ["#000000", "#ff0000"]}, "legend": null}, "size": {"field": "kind", "type": "ordinal", "scale": {"domain": ["node", "terminal"], "range": [46, 140]}, "legend": null}}},
 {"data": {"name": "roots"}, "transform": [{"filter": "datum.panel == 7"}], "mark": {"type": "text", "text": "root", "align": "left", "baseline": "alphabetic", "dx": 11.5, "dy": -11.3, "font": "Liberation Serif", "fontSize": 19, "color": "#000000"}, "encoding": {"x": {"field": "x", "type": "quantitative", "title": null}, "y": {"field": "y", "type": "quantitative", "title": null}}},
 {"data": {"name": "titles"}, "transform": [{"filter": "datum.panel == 7"}], "mark": {"type": "text", "align": "right", "baseline": "alphabetic", "dx": -68.5, "font": "Liberation Serif", "fontStyle": "italic", "fontSize": 30, "color": "#000000"}, "encoding": {"x": {"datum": 2.5, "type": "quantitative"}, "y": {"datum": 6.276, "type": "quantitative"}, "text": {"field": "name"}}},
 {"data": {"name": "titles"}, "transform": [{"filter": "datum.panel == 7"}], "mark": {"type": "text", "align": "left", "baseline": "alphabetic", "dx": -68.5, "dy": 3, "font": "Liberation Serif", "fontSize": 23, "color": "#000000"}, "encoding": {"x": {"datum": 2.5, "type": "quantitative"}, "y": {"datum": 6.276, "type": "quantitative"}, "text": {"field": "sub"}}}
]},
{"width": 261, "height": 230, "layer": [
 {"data": {"name": "grid"}, "mark": {"type": "rule", "color": "#c2c2c2", "strokeWidth": 1}, "encoding": {"x": {"field": "v", "type": "quantitative", "title": null, "scale": {"domain": [-1.8, 6.8], "nice": false, "zero": false}, "axis": {"values": [1, 2, 3, 4, 5], "title": null}}, "y": {"datum": -0.4, "type": "quantitative", "scale": {"domain": [-0.4, 7.18], "nice": false, "zero": false}, "axis": {"values": [1, 2, 3, 4, 5], "title": null}}, "y2": {"datum": 5}}},
 {"data": {"name": "grid"}, "mark": {"type": "rule", "color": "#c2c2c2", "strokeWidth": 1}, "encoding": {"y": {"field": "v", "type": "quantitative", "title": null}, "x": {"datum": -1.1, "type": "quantitative"}, "x2": {"datum": 6.1}}},
 {"data": {"values": [{}]}, "mark": {"type": "rule", "color": "#000000", "strokeWidth": 1.1}, "encoding": {"x": {"datum": -1.1, "type": "quantitative"}, "x2": {"datum": 6.1}, "y": {"datum": 0, "type": "quantitative"}}},
 {"data": {"values": [{}]}, "mark": {"type": "rule", "color": "#000000", "strokeWidth": 1.1}, "encoding": {"x": {"datum": 0, "type": "quantitative"}, "y": {"datum": -1, "type": "quantitative"}, "y2": {"datum": 5}}},
 {"data": {"values": [{}]}, "mark": {"type": "point", "shape": "M -1 -0.56 Q -0.4 -0.1 0 0 Q -0.4 0.1 -1 0.56", "filled": false, "color": "#000000", "strokeWidth": 1.1, "size": 256, "opacity": 1}, "encoding": {"x": {"datum": 6.1, "type": "quantitative"}, "y": {"datum": 0, "type": "quantitative"}}},
 {"data": {"values": [{}]}, "mark": {"type": "point", "shape": "M -0.56 1 Q -0.1 0.4 0 0 Q 0.1 0.4 0.56 1", "filled": false, "color": "#000000", "strokeWidth": 1.1, "size": 256, "opacity": 1}, "encoding": {"x": {"datum": 0, "type": "quantitative"}, "y": {"datum": 5, "type": "quantitative"}}},
 {"data": {"name": "edges"}, "transform": [{"filter": "datum.panel == 8"}], "mark": {"type": "rule", "color": "#0000ff", "strokeWidth": 5, "strokeCap": "square"}, "encoding": {"x": {"field": "x", "type": "quantitative", "title": null}, "y": {"field": "y", "type": "quantitative", "title": null}, "x2": {"field": "x2"}, "y2": {"field": "y2"}}},
 {"data": {"name": "roots"}, "transform": [{"filter": "datum.panel == 8"}], "mark": {"type": "point", "shape": "M 0 0 L 1 -0.78", "filled": false, "color": "#808080", "strokeWidth": 0.9, "size": 655, "opacity": 1}, "encoding": {"x": {"field": "x", "type": "quantitative", "title": null}, "y": {"field": "y", "type": "quantitative", "title": null}}},
 {"data": {"name": "nodes"}, "transform": [{"filter": "datum.panel == 8"}], "mark": {"type": "point", "shape": "circle", "filled": true, "opacity": 1, "strokeWidth": 0}, "encoding": {"x": {"field": "x", "type": "quantitative", "title": null}, "y": {"field": "y", "type": "quantitative", "title": null}, "color": {"field": "kind", "type": "nominal", "scale": {"domain": ["node", "terminal"], "range": ["#000000", "#ff0000"]}, "legend": null}, "size": {"field": "kind", "type": "ordinal", "scale": {"domain": ["node", "terminal"], "range": [46, 140]}, "legend": null}}},
 {"data": {"name": "roots"}, "transform": [{"filter": "datum.panel == 8"}], "mark": {"type": "text", "text": "root", "align": "left", "baseline": "alphabetic", "dx": 11.5, "dy": -11.3, "font": "Liberation Serif", "fontSize": 19, "color": "#000000"}, "encoding": {"x": {"field": "x", "type": "quantitative", "title": null}, "y": {"field": "y", "type": "quantitative", "title": null}}},
 {"data": {"name": "titles"}, "transform": [{"filter": "datum.panel == 8"}], "mark": {"type": "text", "align": "right", "baseline": "alphabetic", "dx": -18.6, "font": "Liberation Serif", "fontStyle": "italic", "fontSize": 30, "color": "#000000"}, "encoding": {"x": {"datum": 2.5, "type": "quantitative"}, "y": {"datum": 6.276, "type": "quantitative"}, "text": {"field": "name"}}},
 {"data": {"name": "titles"}, "transform": [{"filter": "datum.panel == 8"}], "mark": {"type": "text", "align": "left", "baseline": "alphabetic", "dx": -18.6, "dy": 3, "font": "Liberation Serif", "fontSize": 23, "color": "#000000"}, "encoding": {"x": {"datum": 2.5, "type": "quantitative"}, "y": {"datum": 6.276, "type": "quantitative"}, "text": {"field": "sub"}}}
]},
{"width": 261, "height": 230, "layer": [
 {"data": {"name": "grid"}, "mark": {"type": "rule", "color": "#c2c2c2", "strokeWidth": 1}, "encoding": {"x": {"field": "v", "type": "quantitative", "title": null, "scale": {"domain": [-1.8, 6.8], "nice": false, "zero": false}, "axis": {"values": [1, 2, 3, 4, 5], "title": null}}, "y": {"datum": -0.4, "type": "quantitative", "scale": {"domain": [-0.4, 7.18], "nice": false, "zero": false}, "axis": {"values": [1, 2, 3, 4, 5], "title": null}}, "y2": {"datum": 5}}},
 {"data": {"name": "grid"}, "mark": {"type": "rule", "color": "#c2c2c2", "strokeWidth": 1}, "encoding": {"y": {"field": "v", "type": "quantitative", "title": null}, "x": {"datum": -1.1, "type": "quantitative"}, "x2": {"datum": 6.1}}},
 {"data": {"values": [{}]}, "mark": {"type": "rule", "color": "#000000", "strokeWidth": 1.1}, "encoding": {"x": {"datum": -1.1, "type": "quantitative"}, "x2": {"datum": 6.1}, "y": {"datum": 0, "type": "quantitative"}}},
 {"data": {"values": [{}]}, "mark": {"type": "rule", "color": "#000000", "strokeWidth": 1.1}, "encoding": {"x": {"datum": 0, "type": "quantitative"}, "y": {"datum": -1, "type": "quantitative"}, "y2": {"datum": 5}}},
 {"data": {"values": [{}]}, "mark": {"type": "point", "shape": "M -1 -0.56 Q -0.4 -0.1 0 0 Q -0.4 0.1 -1 0.56", "filled": false, "color": "#000000", "strokeWidth": 1.1, "size": 256, "opacity": 1}, "encoding": {"x": {"datum": 6.1, "type": "quantitative"}, "y": {"datum": 0, "type": "quantitative"}}},
 {"data": {"values": [{}]}, "mark": {"type": "point", "shape": "M -0.56 1 Q -0.1 0.4 0 0 Q 0.1 0.4 0.56 1", "filled": false, "color": "#000000", "strokeWidth": 1.1, "size": 256, "opacity": 1}, "encoding": {"x": {"datum": 0, "type": "quantitative"}, "y": {"datum": 5, "type": "quantitative"}}},
 {"data": {"name": "edges"}, "transform": [{"filter": "datum.panel == 9"}], "mark": {"type": "rule", "color": "#0000ff", "strokeWidth": 5, "strokeCap": "square"}, "encoding": {"x": {"field": "x", "type": "quantitative", "title": null}, "y": {"field": "y", "type": "quantitative", "title": null}, "x2": {"field": "x2"}, "y2": {"field": "y2"}}},
 {"data": {"name": "roots"}, "transform": [{"filter": "datum.panel == 9"}], "mark": {"type": "point", "shape": "M 0 0 L 1 -0.78", "filled": false, "color": "#808080", "strokeWidth": 0.9, "size": 655, "opacity": 1}, "encoding": {"x": {"field": "x", "type": "quantitative", "title": null}, "y": {"field": "y", "type": "quantitative", "title": null}}},
 {"data": {"name": "nodes"}, "transform": [{"filter": "datum.panel == 9"}], "mark": {"type": "point", "shape": "circle", "filled": true, "opacity": 1, "strokeWidth": 0}, "encoding": {"x": {"field": "x", "type": "quantitative", "title": null}, "y": {"field": "y", "type": "quantitative", "title": null}, "color": {"field": "kind", "type": "nominal", "scale": {"domain": ["node", "terminal"], "range": ["#000000", "#ff0000"]}, "legend": null}, "size": {"field": "kind", "type": "ordinal", "scale": {"domain": ["node", "terminal"], "range": [46, 140]}, "legend": null}}},
 {"data": {"name": "roots"}, "transform": [{"filter": "datum.panel == 9"}], "mark": {"type": "text", "text": "root", "align": "left", "baseline": "alphabetic", "dx": 11.5, "dy": -12.5, "font": "Liberation Serif", "fontSize": 19, "fontWeight": "bold", "color": "#000000"}, "encoding": {"x": {"field": "x", "type": "quantitative", "title": null}, "y": {"field": "y", "type": "quantitative", "title": null}}},
 {"data": {"name": "titles"}, "transform": [{"filter": "datum.panel == 9"}], "mark": {"type": "text", "align": "right", "baseline": "alphabetic", "dx": -18.6, "font": "Liberation Serif", "fontStyle": "italic", "fontSize": 30, "color": "#000000"}, "encoding": {"x": {"datum": 2.5, "type": "quantitative"}, "y": {"datum": 6.276, "type": "quantitative"}, "text": {"field": "name"}}},
 {"data": {"name": "titles"}, "transform": [{"filter": "datum.panel == 9"}], "mark": {"type": "text", "align": "left", "baseline": "alphabetic", "dx": -18.6, "dy": 3, "font": "Liberation Serif", "fontSize": 23, "color": "#000000"}, "encoding": {"x": {"datum": 2.5, "type": "quantitative"}, "y": {"datum": 6.276, "type": "quantitative"}, "text": {"field": "sub"}}}
]}
]
}
